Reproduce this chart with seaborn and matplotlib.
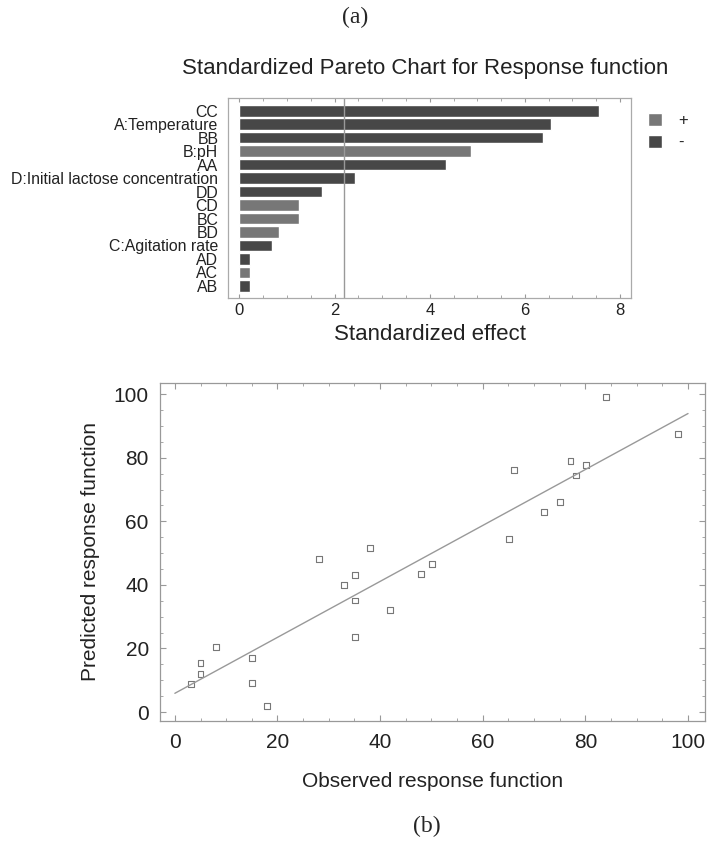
import matplotlib
matplotlib.use("Agg")
import matplotlib.pyplot as plt
from matplotlib.patches import Patch
from matplotlib.ticker import MultipleLocator
import pandas as pd
import seaborn as sns

# Pareto chart data
terms = ["CC", "A:Temperature", "BB", "B:pH", "AA", "D:Initial lactose concentration",
         "DD", "CD", "BC", "BD", "C:Agitation rate", "AD", "AC", "AB"]
effects = [7.56, 6.54, 6.39, 4.86, 4.34, 2.42, 1.74, 1.25, 1.25, 0.84, 0.69, 0.23, 0.23, 0.23]
signs = ["-", "-", "-", "+", "-", "-", "-", "+", "+", "+", "-", "-", "+", "-"]
critical_t = 2.2

# predicted vs observed
observed = [3.1, 5.0, 5.0, 8.1, 15.0, 15.0, 18.0, 28.1, 33.0, 35.1, 35.1, 35.1, 38.1, 42.0,
            48.0, 50.1, 65.1, 66.1, 72.0, 75.1, 77.1, 78.1, 80.1, 84.1, 98.1]
predicted = [8.7, 15.3, 12.0, 20.4, 17.0, 9.1, 2.0, 48.2, 39.9, 43.1, 35.1, 23.5, 51.5, 32.0,
             43.4, 46.5, 54.5, 76.2, 63.0, 66.0, 79.1, 74.4, 77.6, 99.2, 87.6]
fit_x = [0, 100]
fit_y = [5.9, 93.9]

sns.set_style("ticks")
plt.rcParams["font.family"] = ["Liberation Sans", "DejaVu Sans"]

fig = plt.figure(figsize=(7.11, 8.47), dpi=100)

# ---- (a) Pareto chart
pareto = pd.DataFrame({"term": terms, "effect": effects, "sign": signs})
colors = {"+": "#777777", "-": "#474747"}

ax1 = fig.add_axes([0.3207, 0.6478, 0.5668, 0.2361])
sns.barplot(data=pareto, x="effect", y="term", hue="sign", order=terms,
            hue_order=["+", "-"], palette=colors, dodge=False, width=0.86,
            saturation=1, legend=False, ax=ax1)
ax1.axvline(critical_t, color="#999999", lw=1.0)
ax1.set_xlim(-0.24, 8.23)
ax1.set_ylim(13.92, -0.92)
ax1.set_xticks([0, 2, 4, 6, 8])
ax1.xaxis.set_minor_locator(MultipleLocator(0.5))
ax1.tick_params(axis="x", which="both", direction="in", top=True, colors="#999999",
                labelcolor="#222222", labelsize=12)
ax1.tick_params(axis="x", which="major", length=3)
ax1.tick_params(axis="x", which="minor", length=2)
ax1.tick_params(axis="y", length=0, labelsize=11.4, pad=7, labelcolor="#222222")
ax1.set_xlabel("Standardized effect", fontsize=16, color="#222222", labelpad=4)
ax1.set_ylabel("")
for s in ax1.spines.values():
    s.set_color("#aaaaaa")
    s.set_linewidth(0.9)

handles = [Patch(facecolor=colors["+"]), Patch(facecolor=colors["-"])]
fig.legend(handles, ["+", "-"], loc="upper left", bbox_to_anchor=(0.89, 0.884),
           frameon=False, fontsize=12, handlelength=0.85, handleheight=0.8,
           handletextpad=1.0, labelspacing=0.4)

fig.text(0.598, 0.919, "Standardized Pareto Chart for Response function",
         ha="center", va="center", fontsize=16, color="#222222")
fig.text(0.499, 0.979, "(a)", ha="center", va="center", fontsize=17,
         family=["Liberation Serif", "DejaVu Serif"])

# ---- (b) predicted vs observed
ax2 = fig.add_axes([0.225, 0.1488, 0.7665, 0.399])
sns.lineplot(x=fit_x, y=fit_y, color="#999999", lw=1.0, ax=ax2)
sns.scatterplot(x=observed, y=predicted, marker="s", s=18, facecolor="none",
                edgecolor="#777777", linewidth=0.8, ax=ax2)
ax2.set_xlim(-2.9, 103.3)
ax2.set_ylim(-2.8, 103.5)
ax2.set_xticks(range(0, 101, 20))
ax2.set_yticks(range(0, 101, 20))
ax2.xaxis.set_minor_locator(MultipleLocator(5))
ax2.yaxis.set_minor_locator(MultipleLocator(5))
ax2.tick_params(which="both", direction="in", top=True, right=True, colors="#999999",
                labelcolor="#222222", labelsize=15)
ax2.tick_params(which="major", length=4)
ax2.tick_params(which="minor", length=2)
ax2.tick_params(axis="x", pad=9)
ax2.tick_params(axis="y", pad=8)
ax2.set_xlabel("Observed response function", fontsize=15, color="#222222", labelpad=14)
ax2.set_ylabel("Predicted response function", fontsize=15, color="#222222", labelpad=10)
for s in ax2.spines.values():
    s.set_color("#999999")
    s.set_linewidth(0.9)

fig.text(0.601, 0.024, "(b)", ha="center", va="center", fontsize=17,
         family=["Liberation Serif", "DejaVu Serif"])

fig.savefig("out.png", dpi=100)
